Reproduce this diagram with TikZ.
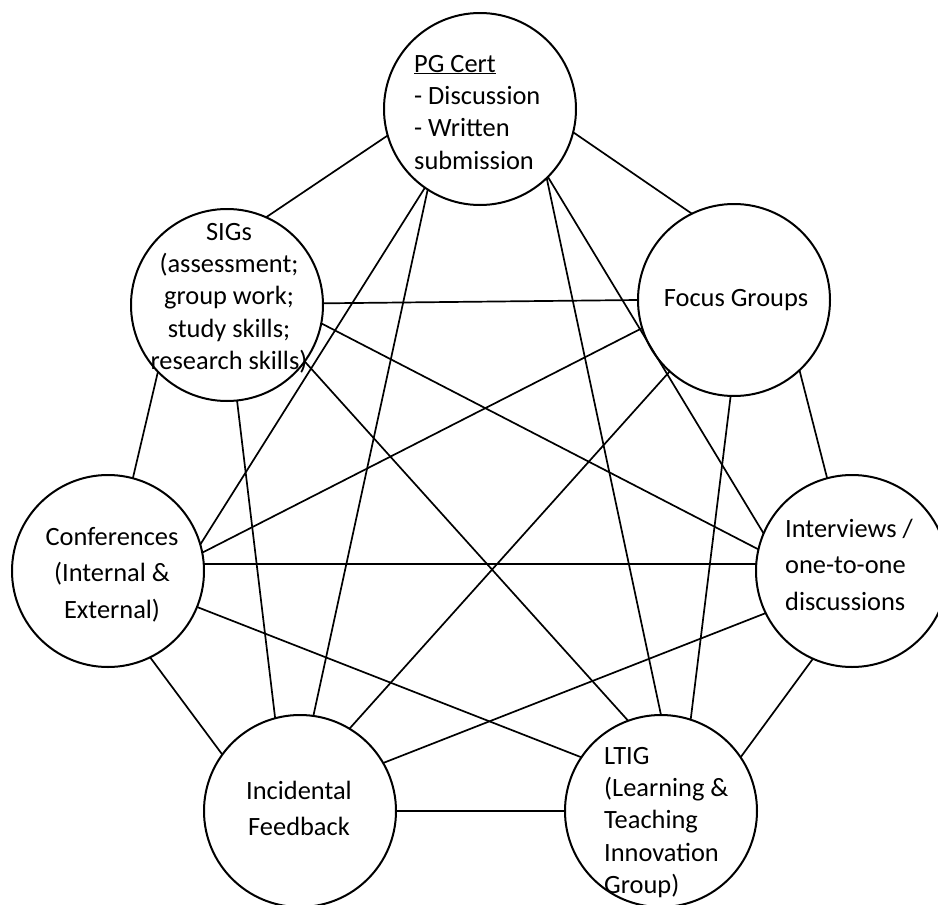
\documentclass[tikz,border=0pt]{standalone}
\usepackage{fontspec}
\setmainfont{Carlito}
\begin{document}
\begin{tikzpicture}[x=1pt,y=-1pt,
  bub/.style={circle, draw, line width=2pt, minimum size=192pt, inner sep=0pt, outer sep=0pt},
  link/.style={line width=1.7pt},
  txta/.style={inner sep=0pt, font=\fontsize{26.4}{32.4}\selectfont},
  txtb/.style={inner sep=0pt, font=\fontsize{26.4}{36.5}\selectfont}]
\useasboundingbox (0,0) rectangle (938,905);
% circles
\node[bub] (pg) at (480,109) {};
\node[bub] (sig) at (227,305) {};
\node[bub] (fg) at (734,300) {};
\node[bub] (conf) at (108,571) {};
\node[bub] (int) at (852,571) {};
\node[bub] (inc) at (300,811) {};
\node[bub] (ltig) at (661,811) {};
% texts
\node[txta, anchor=base west] (pgt) at (414,72)
  {\begin{tabular}[t]{@{}l@{}}\underline{PG Cert}\\- Discussion\\- Written\\submission\end{tabular}};
\node[txta, anchor=base] (sigt) at (229,240)
  {\begin{tabular}[t]{@{}c@{}}SIGs\\(assessment;\\group work;\\study skills;\\research skills)\end{tabular}};
\node[txta, anchor=base] (fgt) at (736,306) {Focus Groups};
\node[txtb, anchor=base] (conft) at (112,545)
  {\begin{tabular}[t]{@{}c@{}}Conferences\\(Internal \&\\External)\end{tabular}};
\node[txtb, anchor=base west] (intt) at (785,537)
  {\begin{tabular}[t]{@{}l@{}}Interviews /\\one-to-one\\discussions\end{tabular}};
\node[txtb, anchor=base] (inct) at (299,799)
  {\begin{tabular}[t]{@{}c@{}}Incidental\\Feedback\end{tabular}};
\node[txta, anchor=base west] (ltigt) at (604,764)
  {\begin{tabular}[t]{@{}l@{}}LTIG\\(Learning \&\\Teaching\\Innovation\\Group)\end{tabular}};
% connectors
\draw[link] (pg.196) -- (sig.66);
\draw[link] (pg.346) -- (fg.116);
\draw[link] (pg.235) -- (conf.16);
\draw[link] (pg.237) -- (inc.82);
\draw[link] (pg.314) -- (ltig.90);
\draw[link] (pg.315) -- (int.157);
\draw[link] (sig.1) -- (fg.180);
\draw[link] (sig.349) -- (int.167);
\draw[link] (sig.324) -- (ltig.110);
\draw[link] (sig.224) -- (conf.75);
\draw[link] (sig.276) -- (inc.105);
\draw[link] (fg.197) -- (conf.11);
\draw[link] (fg.228) -- (inc.59);
\draw[link] (fg.268) -- (ltig.72);
\draw[link] (fg.313) -- (int.105);
\draw[link] (conf.4) -- (int.176);
\draw[link] (conf.338) -- (ltig.146);
\draw[link] (conf.296) -- (inc.144);
\draw[link] (int.206) -- (inc.30);
\draw[link] (int.246) -- (ltig.34);
\draw[link] (inc.0) -- (ltig.180);
\end{tikzpicture}
\end{document}
